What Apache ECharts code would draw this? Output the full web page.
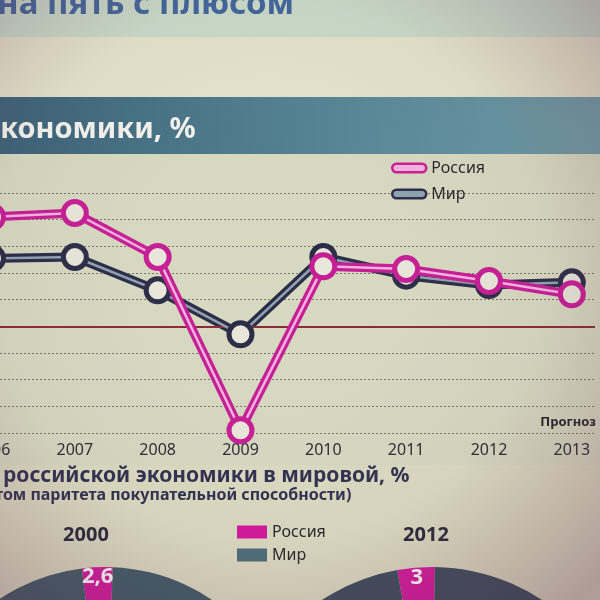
<!DOCTYPE html>
<html>
<head>
<meta charset="utf-8">
<script src="https://cdn.jsdelivr.net/npm/echarts@6/dist/echarts.min.js"></script>
<style>
html,body{margin:0;padding:0;background:#d9dac3;}
#chart{width:600px;height:600px;}
</style>
</head>
<body>
<div id="chart"></div>
<script>
// ---- data ----
const years = [2006, 2007, 2008, 2009, 2010, 2011, 2012, 2013];
const russia = [8.2, 8.5, 5.2, -7.8, 4.5, 4.3, 3.4, 2.4];
const world = [5.1, 5.2, 2.7, -0.6, 5.2, 3.8, 3.1, 3.3];
const seriesNames = ['Россия', 'Мир'];
const shareYears = ['2000', '2012'];
const russiaShare = [2.6, 3];

const FONT = '"Noto Sans", "Open Sans", sans-serif';
const PINK = '#c61d95', PINK_IN = '#f2b2e0';
const NAVY = '#2a2c47', NAVY_IN = '#8ea2b0';
const PIE_PINK = '#d3189d';
const PIE_W = ['#3f5a66', '#3b4b5b'];

const pair = arr => years.map((y, i) => [y, arr[i]]);
const pill = 'path://M4,0 L28,0 A4,4 0 0 1 28,8 L4,8 A4,4 0 0 1 4,0 Z';

function lineSet(name, vals, outer, inner, z) {
  return [
    { type: 'line', name: name, data: pair(vals), symbol: 'none', z: z,
      lineStyle: { width: 9, color: outer }, itemStyle: { color: outer }, silent: true },
    { type: 'line', name: name + ' ', data: pair(vals), symbol: 'none', z: z + 1,
      lineStyle: { width: 2.5, color: inner }, silent: true },
    { type: 'scatter', name: name + '  ', data: pair(vals), symbol: 'circle', symbolSize: 23, z: z + 2,
      itemStyle: { color: '#e8e7da', borderColor: outer, borderWidth: 5, opacity: 1 } }
  ];
}

function pieSet(idx, center, radius, startAngle) {
  const data = [
    { name: seriesNames[0], value: russiaShare[idx], itemStyle: { color: PIE_PINK } },
    { name: seriesNames[1], value: 100 - russiaShare[idx], itemStyle: { color: PIE_W[idx] } }
  ];
  return [
    { type: 'pie', center: center, radius: radius, startAngle: startAngle, silent: true,
      label: { show: false }, labelLine: { show: false }, data: data, z: 3 },
    { type: 'pie', center: center, radius: [radius - 26, radius], startAngle: startAngle, silent: true,
      avoidLabelOverlap: false, z: 4,
      itemStyle: { color: 'rgba(0,0,0,0)' }, labelLine: { show: false },
      data: data.map((d, j) => ({ name: d.name, value: d.value,
        itemStyle: { color: 'rgba(0,0,0,0)' },
        label: { show: j === 0, position: 'inside', color: '#ffffff', fontFamily: FONT,
          fontWeight: 'bold', fontSize: 22,
          formatter: p => String(p.value).replace('.', ',') } })) }
  ];
}

const chart = echarts.init(document.getElementById('chart'));
chart.setOption({
  animation: false,
  backgroundColor: '#d9dac3',
  textStyle: { fontFamily: FONT },
  grid: { left: -8, right: 5, top: 193, bottom: 167, outerBoundsMode: 'none', containLabel: false },
  xAxis: {
    type: 'value', min: 2006, max: 2013.28, interval: 1,
    axisLine: { show: false }, axisTick: { show: false }, splitLine: { show: false },
    axisLabel: { margin: 9, fontSize: 16, color: '#2a2b38', fontFamily: FONT,
      showMinLabel: true, showMaxLabel: false,
      formatter: v => (Number.isInteger(v) ? String(v) : '') }
  },
  yAxis: {
    type: 'value', min: -8, max: 10, interval: 2,
    axisLine: { show: false }, axisTick: { show: false }, axisLabel: { show: false },
    splitLine: { lineStyle: { color: '#77776c', type: [2, 2], width: 1 } }
  },
  legend: [
    { orient: 'vertical', left: 386, top: 155, itemWidth: 34, itemHeight: 9, itemGap: 10,
      selectedMode: false,
      textStyle: { fontSize: 16, color: '#26262e', fontFamily: FONT },
      data: [
        { name: seriesNames[0], icon: pill, itemStyle: { color: PINK_IN, borderColor: PINK, borderWidth: 2.5 } },
        { name: seriesNames[1], icon: pill, itemStyle: { color: NAVY_IN, borderColor: NAVY, borderWidth: 2.5 } }
      ] },
    { orient: 'vertical', left: 232, top: 519, itemWidth: 30, itemHeight: 13, itemGap: 7,
      selectedMode: false,
      textStyle: { fontSize: 16, color: '#26262e', fontFamily: FONT },
      data: [
        { name: seriesNames[0], icon: 'rect', itemStyle: { color: PIE_PINK, borderWidth: 0 } },
        { name: seriesNames[1], icon: 'rect', itemStyle: { color: '#4c6d7b', borderWidth: 0 } }
      ] }
  ],
  series: [
    ...lineSet(seriesNames[1], world, NAVY, NAVY_IN, 4),
    ...lineSet(seriesNames[0], russia, PINK, PINK_IN, 10),
    { type: 'line', name: 'zero', data: [], silent: true,
      markLine: { silent: true, symbol: 'none', label: { show: false },
        lineStyle: { color: '#8c2a34', width: 2, type: 'solid' }, data: [{ yAxis: 0 }] }, z: 3 },
    ...pieSet(0, [105, 757], 190, 97),
    ...pieSet(1, [432, 767], 200, 100)
  ],
  graphic: [
    { type: 'rect', shape: { x: 0, y: 0, width: 600, height: 37 }, style: { fill: '#c9dbc9' }, z: -10, silent: true },
    { type: 'rect', shape: { x: 0, y: 37, width: 600, height: 60 }, style: { fill: '#e4e3cb' }, z: -10, silent: true },
    { type: 'rect', shape: { x: 0, y: 97, width: 600, height: 57 }, z: -9, silent: true,
      style: { fill: { type: 'linear', x: 0, y: 0, x2: 1, y2: 0,
        colorStops: [{ offset: 0, color: '#3a6178' }, { offset: 0.6, color: '#568797' }, { offset: 1, color: '#6e9ca6' }] } } },
    { type: 'rect', shape: { x: 0, y: 154, width: 600, height: 311 }, style: { fill: '#d7d9c1' }, z: -10, silent: true },
    { type: 'rect', shape: { x: 0, y: 465, width: 600, height: 135 }, style: { fill: '#dcdbc2' }, z: -10, silent: true },
    { type: 'text', left: -3, top: -12, z: 5, silent: true,
      style: { text: 'на пять с плюсом', fontFamily: FONT, fontWeight: 'bold', fontSize: 33, fill: '#40659a' } },
    { type: 'text', left: -15, top: 115, z: 5, silent: true,
      style: { text: 'экономики, %', fontFamily: FONT, fontWeight: 'bold', fontSize: 29, fill: '#f4f4ee' } },
    { type: 'text', right: 4, top: 416, z: 5, silent: true,
      style: { text: 'Прогноз', fontFamily: FONT, fontWeight: 'bold', fontSize: 13, fill: '#22222a' } },
    { type: 'text', left: 3, top: 466, z: 5, silent: true,
      style: { text: 'российской экономики в мировой, %', fontFamily: FONT, fontWeight: 'bold', fontSize: 21, fill: '#2e3050' } },
    { type: 'text', left: -5, top: 487, z: 5, silent: true,
      style: { text: 'том паритета покупательной способности)', fontFamily: FONT, fontWeight: 'bold', fontSize: 16, fill: '#2e3050' } },
    { type: 'text', x: 86, y: 535, z: 5, silent: true,
      style: { text: shareYears[0], align: 'center', verticalAlign: 'middle', fontFamily: FONT, fontWeight: 'bold', fontSize: 20, fill: '#25283a' } },
    { type: 'text', x: 426, y: 535, z: 5, silent: true,
      style: { text: shareYears[1], align: 'center', verticalAlign: 'middle', fontFamily: FONT, fontWeight: 'bold', fontSize: 20, fill: '#25283a' } },
    { type: 'rect', shape: { x: 0, y: 0, width: 600, height: 600 }, z: 100, silent: true,
      style: { fill: { type: 'radial', x: 0.45, y: 0.45, r: 0.75,
        colorStops: [{ offset: 0, color: 'rgba(255,250,230,0)' }, { offset: 0.6, color: 'rgba(120,80,90,0.05)' }, { offset: 1, color: 'rgba(90,40,70,0.35)' }] } } }
  ]
});
</script>
</body>
</html>
